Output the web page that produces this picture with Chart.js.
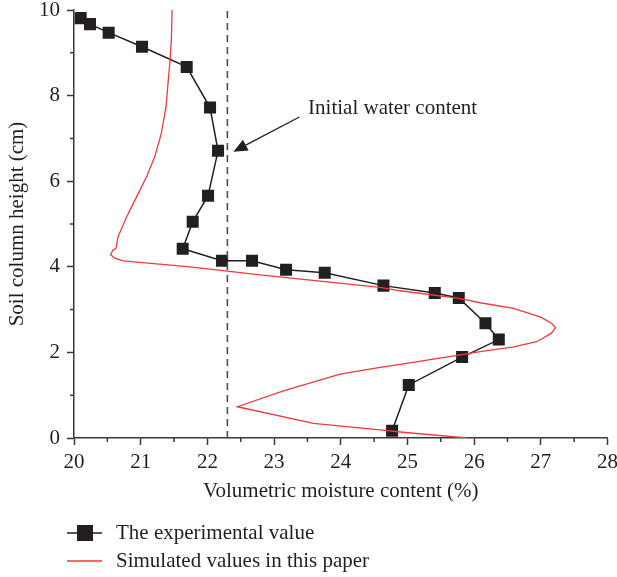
<!DOCTYPE html>
<html>
<head>
<meta charset="utf-8">
<script src="https://cdn.jsdelivr.net/npm/chart.js@4.4.1/dist/chart.umd.min.js"></script>
<style>
  html, body { margin: 0; padding: 0; background: #fff; }
  #wrap { width: 617px; height: 577px; }
</style>
</head>
<body>
<div id="wrap"><canvas id="moistureChart" width="617" height="577"></canvas></div>
<script>
// measured profile (moisture %, height cm)
const expX = [20.10, 20.24, 20.52, 21.02, 21.69, 22.04, 22.16, 22.01, 21.78, 21.63, 22.22,
              22.67, 23.18, 23.76, 24.64, 25.41, 25.77, 26.17, 26.37, 25.82, 25.02, 24.77];
const expY = [9.81, 9.67, 9.47, 9.14, 8.67, 7.72, 6.71, 5.66, 5.05, 4.42, 4.14,
              4.14, 3.93, 3.86, 3.56, 3.39, 3.27, 2.68, 2.30, 1.89, 1.24, 0.17];

// simulated profile
const simX = [21.47, 21.46, 21.44, 21.41, 21.38, 21.31, 21.21, 21.09, 20.94, 20.79, 20.66,
              20.63, 20.58, 20.55, 20.61, 20.74, 21.74, 22.79, 24.59, 24.89, 25.77, 26.09,
              26.59, 26.99, 27.16, 27.22, 27.16, 26.94, 26.59, 26.09, 25.82, 24.89, 24.59,
              23.99, 23.14, 22.45, 23.59, 24.59, 24.89, 25.89];
const simY = [10.0, 9.30, 8.83, 8.29, 7.74, 7.12, 6.57, 6.11, 5.64, 5.17, 4.70,
              4.43, 4.38, 4.28, 4.20, 4.14, 4.00, 3.81, 3.52, 3.44, 3.26, 3.16,
              3.03, 2.83, 2.68, 2.58, 2.45, 2.25, 2.13, 2.02, 1.95, 1.72, 1.65,
              1.49, 1.10, 0.73, 0.34, 0.19, 0.14, 0.00];

// initial water content
const initialWater = 22.3;

const xTicks = [20, 21, 22, 23, 24, 25, 26, 27, 28];
const yTicks = [0, 2, 4, 6, 8, 10];

const legendItems = ['The experimental value', 'Simulated values in this paper'];
const noteText = 'Initial water content';

const serif = "'Liberation Serif', 'Times New Roman', serif";
const ink = '#231f20';
const red = '#ef3b3b';

const toPoints = (xs, ys) => xs.map((x, i) => ({ x: x, y: ys[i] }));

// fixed axis boxes, layout padding alone decides the plot edges
const fixBox = (s, w, h) => {
    if (w) s.width = w;
    if (h) s.height = h;
    s.paddingTop = s.paddingBottom = s.paddingLeft = s.paddingRight = 0;
};

// small ticks between the labelled ones, arrow note and the legend below
const extras = {
    id: 'extras',
    afterDraw(chart) {
        const { ctx, chartArea: a, scales: { x, y } } = chart;
        ctx.save();
        ctx.strokeStyle = '#3a3a3a';
        ctx.lineWidth = 1.5;
        ctx.beginPath();
        for (let v = 20.5; v < 28; v += 1) {
            const px = x.getPixelForValue(v);
            ctx.moveTo(px, a.bottom);
            ctx.lineTo(px, a.bottom + 4);
        }
        for (let v = 1; v < 10; v += 2) {
            const py = y.getPixelForValue(v);
            ctx.moveTo(a.left, py);
            ctx.lineTo(a.left - 4, py);
        }
        ctx.stroke();

        // arrow pointing at the dashed line
        const x0 = x.getPixelForValue(23.38), y0 = y.getPixelForValue(7.5);
        const x1 = x.getPixelForValue(22.39), y1 = y.getPixelForValue(6.69);
        const ang = Math.atan2(y1 - y0, x1 - x0);
        const head = 14, half = 6;
        const bx = x1 - head * Math.cos(ang), by = y1 - head * Math.sin(ang);
        ctx.strokeStyle = ink;
        ctx.fillStyle = ink;
        ctx.lineWidth = 1.3;
        ctx.beginPath();
        ctx.moveTo(x0, y0);
        ctx.lineTo(bx, by);
        ctx.stroke();
        ctx.beginPath();
        ctx.moveTo(x1, y1);
        ctx.lineTo(bx + half * Math.sin(ang), by - half * Math.cos(ang));
        ctx.lineTo(bx - half * Math.sin(ang), by + half * Math.cos(ang));
        ctx.closePath();
        ctx.fill();

        ctx.font = '21px ' + serif;
        ctx.textAlign = 'left';
        ctx.textBaseline = 'middle';
        ctx.fillText(noteText, x.getPixelForValue(23.51), y.getPixelForValue(7.7));

        // legend
        const rows = [533, 561];
        ctx.lineWidth = 1.5;
        ctx.strokeStyle = ink;
        ctx.beginPath();
        ctx.moveTo(67, rows[0]);
        ctx.lineTo(102, rows[0]);
        ctx.stroke();
        ctx.fillRect(85 - 8, rows[0] - 8, 16, 16);
        ctx.strokeStyle = red;
        ctx.lineWidth = 1.3;
        ctx.beginPath();
        ctx.moveTo(67, rows[1]);
        ctx.lineTo(102, rows[1]);
        ctx.stroke();
        ctx.fillStyle = ink;
        legendItems.forEach((t, i) => ctx.fillText(t, 116, rows[i]));
        ctx.restore();
    }
};

document.addEventListener('DOMContentLoaded', () => {
    const el = document.getElementById('moistureChart');

    new Chart(el, {
        type: 'scatter',
        data: {
            datasets: [
                {
                    data: toPoints(simX, simY),
                    showLine: true,
                    borderColor: red,
                    borderWidth: 1.3,
                    pointRadius: 0,
                    tension: 0
                },
                {
                    data: [{ x: initialWater, y: 0 }, { x: initialWater, y: 10 }],
                    showLine: true,
                    borderColor: '#4d4d4d',
                    borderWidth: 1.6,
                    borderDash: [7, 5],
                    pointRadius: 0
                },
                {
                    data: toPoints(expX, expY),
                    showLine: true,
                    borderColor: ink,
                    borderWidth: 1.5,
                    pointStyle: 'rect',
                    pointRadius: 8.5,
                    pointBackgroundColor: ink,
                    pointBorderColor: ink,
                    pointBorderWidth: 0
                }
            ]
        },
        options: {
            responsive: false,
            animation: false,
            events: [],
            layout: { padding: { top: 10, right: 9.5, bottom: 73, left: 0 } },
            plugins: {
                legend: { display: false },
                tooltip: { enabled: false }
            },
            scales: {
                x: {
                    type: 'linear',
                    min: 20,
                    max: 28,
                    afterBuildTicks: s => { s.ticks = xTicks.map(v => ({ value: v })); },
                    afterFit: s => fixBox(s, 0, 66),
                    border: { color: '#3a3a3a', width: 1.5 },
                    grid: { drawOnChartArea: false, tickLength: 7, tickWidth: 1.5, tickColor: '#3a3a3a' },
                    ticks: { color: ink, padding: 5, font: { family: serif, size: 21 } },
                    title: {
                        display: true,
                        text: 'Volumetric moisture content (%)',
                        color: ink,
                        padding: { top: 0, bottom: 0 },
                        font: { family: serif, size: 21 }
                    }
                },
                y: {
                    type: 'linear',
                    min: 0,
                    max: 10,
                    afterBuildTicks: s => { s.ticks = yTicks.map(v => ({ value: v })); },
                    afterFit: s => fixBox(s, 74, 0),
                    border: { color: '#3a3a3a', width: 1.5 },
                    grid: { drawOnChartArea: false, tickLength: 7, tickWidth: 1.5, tickColor: '#3a3a3a' },
                    ticks: { color: ink, padding: 7, font: { family: serif, size: 21 } },
                    title: {
                        display: true,
                        text: 'Soil column height (cm)',
                        color: ink,
                        padding: { top: 5, bottom: 0 },
                        font: { family: serif, size: 21 }
                    }
                }
            }
        },
        plugins: [extras]
    });
});
</script>
</body>
</html>
